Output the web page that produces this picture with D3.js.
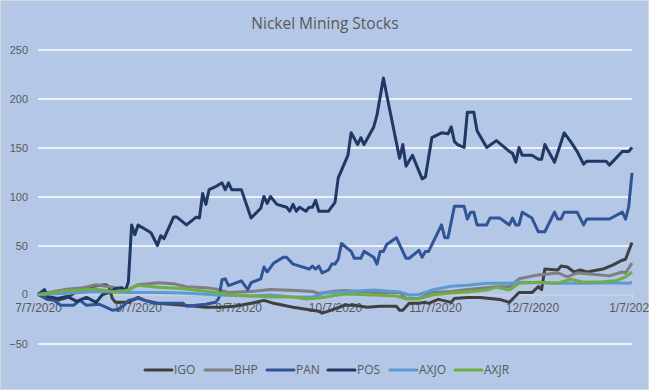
<!DOCTYPE html>
<html>
<head>
<meta charset="utf-8">
<script src="https://cdn.jsdelivr.net/npm/d3@7"></script>
<style>
  body { margin: 0; background: #fff; }
  svg { display: block; font-family: 'Open Sans', 'Liberation Sans', sans-serif; }
</style>
</head>
<body>
<div class="chart-holder"></div>
<script>
// points are [days since 7/7/2020, % change]
let IGO = [[0,0],[3,-5],[6,-6],[9,-3],[13,5],[18,9],[21,10],[22,8],[23,-4],[24,-8],[28,-8],[31,-3],[33,-6],[37,-9],[45,-11],
  [52,-13],[56,-13],[61,-12],[66,-9],[70,-6],[73,-9],[79,-13],[83,-15],[87,-17],[88,-19],[90,-17],[95,-11],[98,-11],[102,-13],
  [106,-12],[111,-12],[112,-16],[113,-16],[115,-9],[118,-9],[120,-8],[121,-9],[124,-5],[128,-8],[129,-4],[133,-3],[137,-3],
  [140,-4],[143,-5],[146,-8],[149,2],[153,2],[155,8],[156,5],[157,26],[161,25],[162,29],[164,28],[166,23],[168,25],[170,23],
  [175,26],[178,30],[181,35],[182,36],[184,53]]
let BHP = [[0,0],[8,5],[14,7],[18,10],[22,8],[28,5],[31,10],[37,12],[42,11],[46,8],[52,7],[56,5],[59,2],[66,3],[72,5],[80,4],
  [85,3],[87,1],[91,3],[95,4],[104,2],[112,2],[114,-4],[118,-4],[122,2],[128,3],[133,5],[139,7],[142,8],[146,8],[149,16],
  [155,20],[161,22],[164,18],[167,22],[171,21],[177,19],[181,23],[182,22],[184,32]]
let PAN = [[0,0],[5,-6],[7,-11],[11,-11],[13,-6],[15,-11],[19,-10],[21,-13],[23,-16],[25,-15],[27,-10],[28,-6],[31,-4],[33,-6],
  [36,-9],[39,-9],[45,-9],[46,-12],[52,-10],[55,-8],[56,-4],[57,15],[58,16],[59,9],[63,14],[65,5],[66,12],[69,16],[70,28],
  [71,23],[73,32],[76,38],[77,38],[79,31],[84,26],[85,29],[86,26],[87,29],[88,22],[90,25],[91,31],[92,31],[93,36],[94,52],
  [97,44],[98,37],[100,37],[101,44],[104,38],[105,31],[106,44],[107,44],[108,51],[111,58],[114,37],[115,37],[118,45],[119,38],
  [120,44],[121,44],[125,71],[126,58],[127,58],[129,90],[132,90],[133,77],[134,84],[135,84],[136,71],[139,71],[140,78],[143,78],
  [146,71],[147,78],[148,71],[149,71],[150,84],[153,78],[155,64],[157,64],[160,84],[161,77],[162,77],[163,84],[167,84],[169,71],
  [170,77],[177,77],[181,84],[182,77],[183,90],[184,124]]
let POS = [[0,0],[2,5],[3,-2],[6,-4],[9,-2],[12,-7],[15,-3],[18,-8],[20,0],[22,2],[24,6],[26,7],[27,3],[28,13],[29,71],[30,61],
  [31,71],[35,63],[37,50],[38,60],[39,57],[42,79],[43,79],[46,71],[49,79],[50,78],[51,103],[52,92],[53,107],[55,110],[57,114],
  [58,107],[59,114],[60,107],[63,107],[66,78],[69,88],[70,100],[71,93],[72,100],[74,92],[77,89],[78,85],[79,92],[80,85],[81,89],
  [83,85],[84,89],[85,89],[86,96],[87,85],[90,85],[92,94],[93,119],[96,142],[97,165],[99,153],[100,160],[101,153],[104,171],
  [105,183],[107,221],[108,204],[112,139],[113,153],[114,131],[116,142],[119,118],[120,120],[122,160],[125,165],[127,164],
  [128,171],[129,156],[130,153],[132,150],[133,186],[135,186],[136,167],[139,150],[142,157],[146,146],[147,144],[148,135],
  [149,150],[150,142],[153,142],[155,138],[156,138],[157,153],[160,135],[163,165],[165,156],[167,146],[169,133],[170,136],
  [176,136],[177,132],[181,146],[183,146],[184,150]]
let AXJO = [[0,0],[8,1],[18,3],[28,2],[37,2],[45,1.5],[56,-0.5],[66,-1.5],[72,-0.5],[79,-2.5],[85,-2.5],[89,1.5],[95,2.5],
  [104,4.5],[112,2.5],[115,-0.5],[118,0],[122,4.5],[128,8.5],[133,9.5],[139,11.5],[146,11.5],[149,12.5],[161,11.5],[171,11.5],
  [177,12],[183,11.5],[184,12.5]]
let AXJR = [[0,0],[8,3.5],[18,5.5],[24,2.5],[28,4.5],[31,9.5],[37,7.5],[43,6.5],[46,5.5],[56,1.5],[61,-0.5],[66,-1.5],[72,-2.5],
  [79,-2.5],[83,-4.5],[87,-3.5],[91,-1.5],[95,0.5],[104,-0.5],[111,-1.5],[114,-4.5],[118,-4.5],[122,-0.5],[128,1.5],[133,2.5],
  [139,4.5],[142,7.5],[146,4.5],[149,11.5],[155,12.5],[161,11.5],[165,15.5],[169,12.5],[175,13],[179,14],[182,18],[184,23]]

let seriesNames = ['IGO', 'BHP', 'PAN', 'POS', 'AXJO', 'AXJR']
let seriesData = [IGO, BHP, PAN, POS, AXJO, AXJR]
let seriesColors = ['#404040', '#7f7f7f', '#2f5597', '#1f3864', '#5b9bd5', '#70ad47']
let yTicks = [-50, 0, 50, 100, 150, 200, 250]
let xTicks = ['7/7/2020', '8/7/2020', '9/7/2020', '10/7/2020', '11/7/2020', '12/7/2020', '1/7/2021']

let width = 649
let height = 390
let margin = { top: 49.5, bottom: 46.5, left: 38, right: 17 }

let parseDate = d3.timeParse('%-m/%-d/%Y')
let start = parseDate(xTicks[0])

let x = d3.scaleTime()
    .domain([start, parseDate(xTicks[xTicks.length - 1])])
    .range([margin.left, width - margin.right])
let y = d3.scaleLinear()
    .domain([-50, 250])
    .range([height - margin.bottom, margin.top])

let svg = d3.select('.chart-holder')
    .append('svg')
        .attr('width', width)
        .attr('height', height)

svg.append('rect')
    .attr('x', 0.5).attr('y', 0.5)
    .attr('width', width - 1).attr('height', height - 1)
    .attr('fill', '#b4c7e7')
    .attr('stroke', '#d9d9d9')

svg.append('text')
    .attr('x', 325).attr('y', 29)
    .attr('text-anchor', 'middle')
    .attr('font-size', 15.5)
    .attr('fill', '#595959')
    .text('Nickel Mining Stocks')

// gridlines + y labels
let yAxis = svg.append('g')
    .attr('transform', 'translate(' + margin.left + ',0)')
    .call(d3.axisLeft(y).tickValues(yTicks.filter(d => d != 0))
        .tickSize(-(width - margin.left - margin.right)).tickPadding(10))
yAxis.select('.domain').remove()
yAxis.selectAll('.tick line').attr('stroke', '#fff').attr('stroke-width', 1.4)
yAxis.selectAll('.tick text').attr('fill', '#595959').attr('font-size', 11)

svg.append('text')
    .attr('x', margin.left - 10).attr('y', y(0))
    .attr('dy', '0.32em')
    .attr('text-anchor', 'end')
    .attr('font-size', 11)
    .attr('fill', '#595959')
    .text('0')

// date axis sits on the zero line
let xAxis = svg.append('g')
    .attr('transform', 'translate(0,' + y(0) + ')')
    .call(d3.axisBottom(x).tickValues(xTicks.map(parseDate))
        .tickFormat(d3.timeFormat('%-m/%-d/%Y')).tickSize(4).tickPadding(5))
xAxis.select('.domain').attr('stroke', '#d9d9d9').attr('stroke-width', 1.2)
xAxis.selectAll('.tick line').attr('stroke', '#d9d9d9')
xAxis.selectAll('.tick text').attr('fill', '#595959').attr('font-size', 12)

let line = d3.line()
    .x(d => x(d3.timeDay.offset(start, d[0])))
    .y(d => y(d[1]))

svg.append('g').attr('class', 'lines')
    .selectAll('path')
    .data(seriesData)
    .enter()
    .append('path')
        .attr('d', line)
        .attr('fill', 'none')
        .attr('stroke', (d, i) => seriesColors[i])
        .attr('stroke-width', 3)
        .attr('stroke-linejoin', 'round')

let legendX = [145, 205, 267, 328, 390, 455]
let legend = svg.append('g').attr('class', 'legend')
    .selectAll('g')
    .data(seriesNames)
    .enter()
    .append('g')
        .attr('transform', (d, i) => 'translate(' + legendX[i] + ',370)')
legend.append('line')
    .attr('x1', 0).attr('x2', 27)
    .attr('stroke', (d, i) => seriesColors[i])
    .attr('stroke-width', 3)
    .attr('stroke-linecap', 'round')
legend.append('text')
    .attr('x', 29).attr('dy', '0.35em')
    .attr('font-size', 12)
    .attr('fill', '#595959')
    .text(d => d)
</script>
</body>
</html>
